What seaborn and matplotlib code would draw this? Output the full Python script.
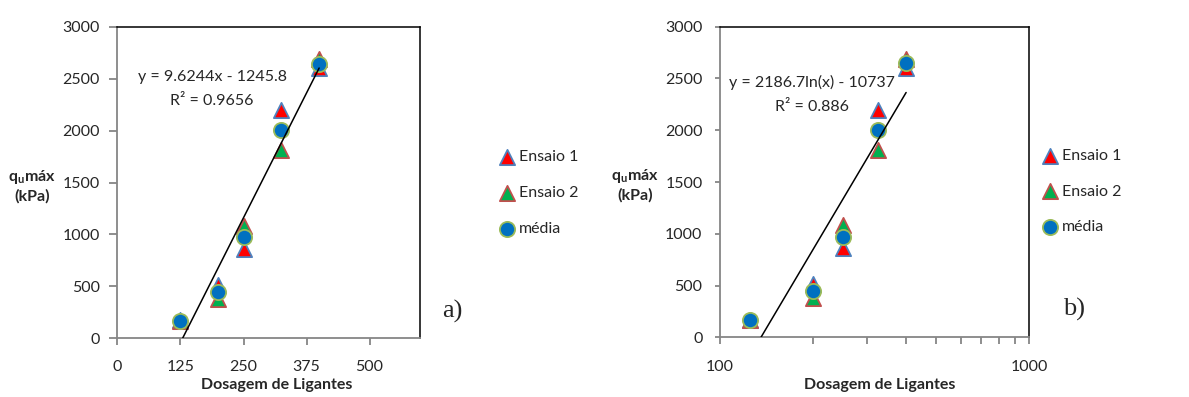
import numpy as np
import pandas as pd
import seaborn as sns
import matplotlib
matplotlib.use("Agg")
import matplotlib.pyplot as plt
from matplotlib.ticker import FixedLocator, NullFormatter, FixedFormatter

# ---------------- data ----------------
dosagem = [125, 200, 250, 325, 400]
ensaio1 = [170, 510, 860, 2200, 2600]
ensaio2 = [165, 375, 1080, 1810, 2690]
media = [167.5, 442.5, 970, 2005, 2645]

lin_slope, lin_intercept = 9.6244, -1245.8
log_a, log_b = 2186.7, -10737

eq_lin = "y = 9.6244x - 1245.8"
r2_lin = "R² = 0.9656"
eq_log = "y = 2186.7ln(x) - 10737"
r2_log = "R² = 0.886"

lin_xticks = [0, 125, 250, 375, 500]
log_xticks = [100, 1000]
log_minor = [200, 300, 400, 500, 600, 700, 800, 900]
yticks = [0, 500, 1000, 1500, 2000, 2500, 3000]
series_labels = ["Ensaio 1", "Ensaio 2", "média"]
panel_tags = ["a)", "b)"]
xlabel = "Dosagem de Ligantes"

# ---------------- style ----------------
sns.set_style("white")
plt.rcParams["font.family"] = ["Lato", "DejaVu Sans"]
plt.rcParams["mathtext.fontset"] = "custom"
plt.rcParams["mathtext.rm"] = "Lato"
plt.rcParams["mathtext.bf"] = "Lato:bold"

GRAY = "#868686"
styles = [
    dict(marker="^", color="#FF0000", edgecolor="#4F81BD"),
    dict(marker="^", color="#00B050", edgecolor="#C0504D"),
    dict(marker="o", color="#0070C0", edgecolor="#9BBB59"),
]

df = pd.DataFrame({"x": dosagem, "Ensaio 1": ensaio1, "Ensaio 2": ensaio2, "média": media})

fig = plt.figure(figsize=(11.89, 3.97), dpi=100)
ax1 = fig.add_axes([0.0988, 0.1486, 0.2544, 0.7834])
ax2 = fig.add_axes([0.6056, 0.1504, 0.2599, 0.7823])

FS = 11.5

for ax, log in [(ax1, False), (ax2, True)]:
    for lab, st in zip(series_labels, styles):
        sns.scatterplot(data=df, x="x", y=lab, ax=ax, marker=st["marker"], s=120,
                        color=st["color"], edgecolor=st["edgecolor"], linewidth=1.3,
                        label=lab, zorder=3, legend=False)
    xs = np.linspace(min(dosagem), max(dosagem), 300)
    if log:
        ys = log_a * np.log(xs) + log_b
    else:
        ys = lin_slope * xs + lin_intercept
    sns.lineplot(x=xs, y=ys, ax=ax, color="black", linewidth=1.1, zorder=4, sort=False)

    ax.set_ylim(0, 3000)
    ax.set_yticks(yticks)
    ax.set_yticklabels([str(v) for v in yticks], fontsize=FS)
    for side in ["left", "bottom"]:
        ax.spines[side].set_color(GRAY)
        ax.spines[side].set_linewidth(1.3)
    for side in ["top", "right"]:
        ax.spines[side].set_color("black")
        ax.spines[side].set_linewidth(1.1)
    ax.set_ylabel(r"q$_\mathbf{u}$máx" + "\n(kPa)", fontsize=FS, fontweight="bold",
                  rotation=0, ha="center", va="center", linespacing=1.3)
    ax.set_xlabel(xlabel, fontsize=FS, fontweight="bold")

# linear axis
ax1.set_xlim(0, 600)
ax1.set_xticks(lin_xticks)
ax1.set_xticklabels([str(v) for v in lin_xticks], fontsize=FS)
ax1.tick_params(axis="y", direction="out", length=5.8, width=1.3, color=GRAY, pad=7, left=True)
ax1.tick_params(axis="x", direction="out", length=5, width=1.3, color=GRAY, pad=11, bottom=True)
ax1.yaxis.set_label_coords(-0.283, 0.49)
ax1.xaxis.set_label_coords(0.527, -0.130)

# log axis
ax2.set_xscale("log")
ax2.set_xlim(100, 1000)
ax2.xaxis.set_major_locator(FixedLocator(log_xticks))
ax2.xaxis.set_major_formatter(FixedFormatter([str(v) for v in log_xticks]))
ax2.xaxis.set_minor_locator(FixedLocator(log_minor))
ax2.xaxis.set_minor_formatter(NullFormatter())
for lbl in ax2.get_xticklabels():
    lbl.set_fontsize(FS)
ax2.tick_params(axis="y", direction="out", length=3.6, width=1.3, color=GRAY, pad=9, left=True)
ax2.tick_params(axis="x", which="both", direction="out", length=5, width=1.3, color=GRAY, pad=11, bottom=True)
ax2.yaxis.set_label_coords(-0.275, 0.49)
ax2.xaxis.set_label_coords(0.518, -0.130)


def figtext(xpx, ypx, s, **kw):
    fig.text(xpx / 1189, 1 - ypx / 397, s, **kw)


# equations
figtext(212, 77, eq_lin, fontsize=FS, ha="center", va="center")
figtext(212, 101, r2_lin, fontsize=FS, ha="center", va="center")
figtext(812, 82, eq_log, fontsize=FS, ha="center", va="center")
figtext(812, 107, r2_log, fontsize=FS, ha="center", va="center")

# panel tags
figtext(452, 311, panel_tags[0], fontsize=19, family="Liberation Serif", ha="center", va="center")
figtext(1074, 309, panel_tags[1], fontsize=19, family="Liberation Serif", ha="center", va="center")

# legends
for ax, lx, ly in [(ax1, 499 / 1189, 1 - 193 / 397), (ax2, 1042 / 1189, 1 - 191.5 / 397)]:
    h, l = ax.get_legend_handles_labels()
    h, l = h[:3], l[:3]
    ax.legend(h, l, loc="center left", bbox_to_anchor=(lx, ly), bbox_transform=fig.transFigure,
              frameon=False, fontsize=FS, handlelength=1.0, handletextpad=0.25,
              labelspacing=1.35, borderpad=0, borderaxespad=0, scatterpoints=1)

fig.savefig("out.png", dpi=100)
